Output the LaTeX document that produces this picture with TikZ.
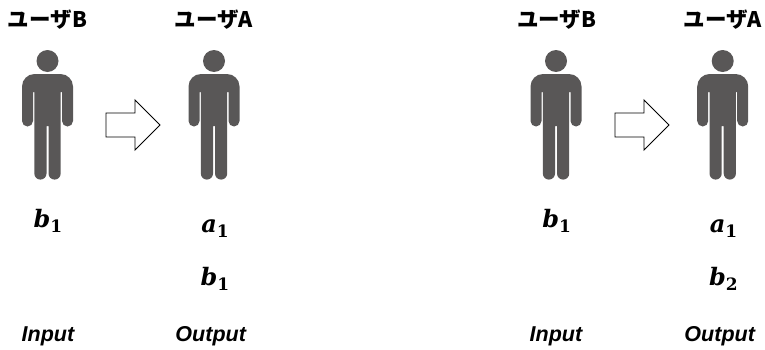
\documentclass[tikz,border=0pt]{standalone}
\usepackage{fontspec}
\setmainfont{Liberation Sans}
\newfontfamily\cjkfont{Noto Sans CJK JP}
\newfontfamily\symfont{DejaVu Serif}
\newcommand{\symvar}[2]{{\symfont\bfseries\itshape #1}\raisebox{-5pt}{\symfont\bfseries\fontsize{17}{17}\selectfont #2}}
\tikzset{
  x=1pt,y=1pt,
  userlabel/.style={font=\cjkfont\bfseries\fontsize{21.5}{21.5}\selectfont,text=black,inner sep=0pt,anchor=center},
  varlabel/.style={font=\fontsize{24}{24}\selectfont,text=black,inner sep=0pt,anchor=center},
  iolabel/.style={font=\bfseries\itshape\fontsize{21.5}{21.5}\selectfont,text=black,inner sep=0pt,anchor=center},
  personfill/.style={fill=personcol,draw=none},
  blockarrow/.style={draw=black,fill=white,line width=0.9pt,line join=miter},
  pics/personfig/.style={code={
    \fill[personfill] (0,13) circle[radius=11];
    \fill[personfill] (0,0) -- (13,0) arc[start angle=90,end angle=0,radius=12.5]
      -- (25.5,-47) arc[start angle=0,end angle=-180,radius=5.5]
      -- (14.5,-18) -- (13.2,-18) -- (13.2,-99.5)
      arc[start angle=0,end angle=-180,radius=6.1]
      -- (1,-52) -- (-1,-52) -- (-1,-99.5)
      arc[start angle=0,end angle=-180,radius=6.1]
      -- (-13.2,-18) -- (-14.5,-18) -- (-14.5,-47)
      arc[start angle=0,end angle=-180,radius=5.5]
      -- (-25.5,-12.5) arc[start angle=180,end angle=90,radius=12.5] -- cycle;
  }},
  pics/blockarr/.style={code={
    \draw[blockarrow] (0,12) -- (29,12) -- (29,25) -- (54,0) -- (29,-25) -- (29,-12) -- (0,-12) -- cycle;
  }}
}
\definecolor{personcol}{HTML}{595757}
\begin{document}
\begin{tikzpicture}
\useasboundingbox (0,0) rectangle (765,349);
% left panel
\node[userlabel] (ub1) at (47.5,329) {ユーザB};
\node[userlabel] (ua1) at (213.7,329) {ユーザA};
\pic at (47.5,275) {personfig};
\pic at (214,275) {personfig};
\pic at (106,224) {blockarr};
\node[varlabel] (b1) at (48,128) {\symvar{b}{1}};
\node[varlabel] (a1) at (215,120) {\symvar{a}{1}};
\node[varlabel] (b1o) at (215,70) {\symvar{b}{1}};
\node[iolabel] (in1) at (48,13) {Input};
\node[iolabel] (out1) at (210.7,13) {Output};
% right panel
\node[userlabel] (ub2) at (556.7,329) {ユーザB};
\node[userlabel] (ua2) at (722.7,329) {ユーザA};
\pic at (556,275) {personfig};
\pic at (722.7,275) {personfig};
\pic at (615,224) {blockarr};
\node[varlabel] (b2) at (556.7,128) {\symvar{b}{1}};
\node[varlabel] (a2) at (723.5,120) {\symvar{a}{1}};
\node[varlabel] (b2o) at (723.5,70) {\symvar{b}{2}};
\node[iolabel] (in2) at (556,13) {Input};
\node[iolabel] (out2) at (719.7,13) {Output};
\end{tikzpicture}
\end{document}
